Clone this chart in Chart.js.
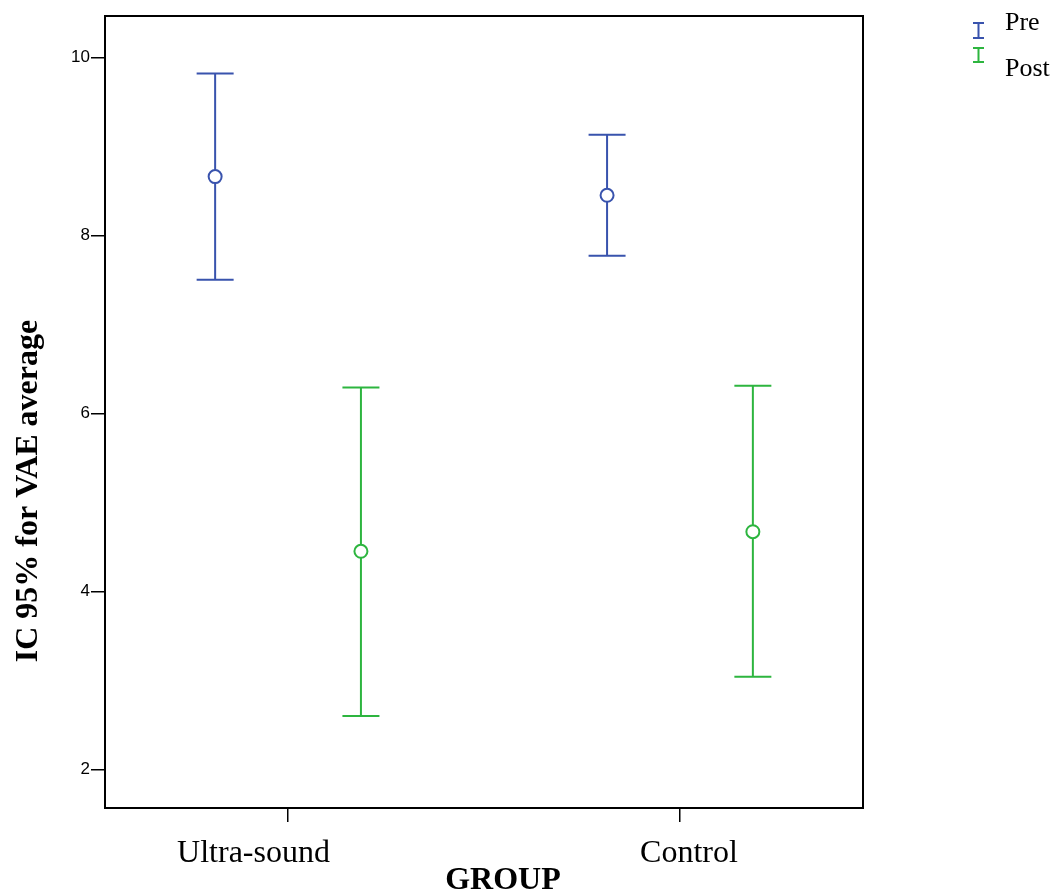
<!DOCTYPE html>
<html>
<head>
<meta charset="utf-8">
<script src="https://cdn.jsdelivr.net/npm/chart.js@4/dist/chart.umd.min.js"></script>
<style>
  html, body { margin: 0; padding: 0; background: #fff; }
  #wrap { width: 1058px; height: 893px; position: relative; }
</style>
</head>
<body>
<div id="wrap"><canvas id="chart"></canvas></div>
<script>
// Groups on the x axis
const categories = ['Ultra-sound', 'Control'];
const seriesNames = ['Pre', 'Post'];

// 95% CI of VAE average
const preMean = [8.66, 8.45];
const preLow = [7.50, 7.77];
const preHigh = [9.82, 9.13];
const postMean = [4.45, 4.67];
const postLow = [2.60, 3.04];
const postHigh = [6.29, 6.31];

const yTicks = [2, 4, 6, 8, 10];

const COLORS = {
    pre: '#3953ad',
    post: '#2db53f',
    axis: '#000000',
};

const SERIF = "'Liberation Serif', 'Times New Roman', serif";
const SANS = "'Liberation Sans', Arial, sans-serif";
const OFFSET = 0.186;              // side-by-side shift within a group
const LABEL_SHIFT = [-34.5, 9];    // category labels sit a little off their ticks

function points(means, shift) {
    return means.map((m, i) => ({ x: i + shift, y: m }));
}

const bars = [
    { low: preLow, high: preHigh },
    { low: postLow, high: postHigh },
];

// error bars drawn through the chart scales
const errorBars = {
    id: 'errorBars',
    beforeDatasetsDraw(chart) {
        const { ctx, scales: { x, y } } = chart;
        ctx.save();
        chart.data.datasets.forEach((ds, d) => {
            ctx.strokeStyle = ds.borderColor;
            ctx.lineWidth = 2;
            ds.data.forEach((p, i) => {
                const px = x.getPixelForValue(p.x);
                const top = y.getPixelForValue(bars[d].high[i]);
                const bot = y.getPixelForValue(bars[d].low[i]);
                ctx.beginPath();
                ctx.moveTo(px, top); ctx.lineTo(px, bot);
                ctx.moveTo(px - 18.5, top); ctx.lineTo(px + 18.5, top);
                ctx.moveTo(px - 18.5, bot); ctx.lineTo(px + 18.5, bot);
                ctx.stroke();
            });
        });
        ctx.restore();
    }
};

// frame, category labels, titles and the I-beam legend
const decorations = {
    id: 'decorations',
    afterDraw(chart) {
        const { ctx, chartArea: a, scales: { x } } = chart;
        ctx.save();
        ctx.strokeStyle = COLORS.axis;
        ctx.lineWidth = 2;
        ctx.strokeRect(a.left, a.top, a.right - a.left, a.bottom - a.top);

        ctx.fillStyle = '#000';
        ctx.textAlign = 'center';
        ctx.textBaseline = 'alphabetic';
        ctx.font = '32px ' + SERIF;
        categories.forEach((c, i) => {
            ctx.fillText(c, x.getPixelForValue(i) + LABEL_SHIFT[i], 862);
        });

        ctx.font = 'bold 32px ' + SERIF;
        ctx.fillText('GROUP', 503, 889);

        ctx.save();
        ctx.translate(37, 491);
        ctx.rotate(-Math.PI / 2);
        ctx.fillText('IC 95% for VAE average', 0, 0);
        ctx.restore();

        // legend
        const legendY = [[23, 38, 30], [48, 62, 76]];
        chart.data.datasets.forEach((ds, d) => {
            const [t, b, base] = legendY[d];
            ctx.strokeStyle = ds.borderColor;
            ctx.lineWidth = 2;
            ctx.beginPath();
            ctx.moveTo(978.5, t); ctx.lineTo(978.5, b);
            ctx.moveTo(973, t); ctx.lineTo(984, t);
            ctx.moveTo(973, b); ctx.lineTo(984, b);
            ctx.stroke();
            ctx.fillStyle = '#000';
            ctx.font = '26px ' + SERIF;
            ctx.textAlign = 'left';
            ctx.fillText(ds.label, 1005, base);
        });
        ctx.restore();
    }
};

const pointStyle = {
    pointStyle: 'circle',
    pointRadius: 6.5,
    pointHoverRadius: 6.5,
    pointBackgroundColor: '#ffffff',
    pointBorderWidth: 2,
    showLine: false,
};

new Chart(document.getElementById('chart'), {
    type: 'scatter',
    data: {
        datasets: [
            { label: seriesNames[0], data: points(preMean, -OFFSET), borderColor: COLORS.pre, pointBorderColor: COLORS.pre, ...pointStyle },
            { label: seriesNames[1], data: points(postMean, OFFSET), borderColor: COLORS.post, pointBorderColor: COLORS.post, ...pointStyle },
        ]
    },
    options: {
        responsive: true,
        maintainAspectRatio: false,
        animation: false,
        layout: { padding: { left: 0, top: 16, right: 195, bottom: 0 } },
        plugins: {
            legend: { display: false },
            tooltip: { enabled: false },
        },
        scales: {
            x: {
                type: 'linear',
                min: -0.467,
                max: 1.467,
                afterBuildTicks: s => { s.ticks = categories.map((c, i) => ({ value: i })); },
                afterFit: s => { s.height = 85; },
                grid: { drawOnChartArea: false, drawTicks: true, tickLength: 14, color: COLORS.axis, lineWidth: 1.5 },
                border: { display: false },
                ticks: { display: false },
            },
            y: {
                min: 1.565,
                max: 10.465,
                afterBuildTicks: s => { s.ticks = yTicks.map(v => ({ value: v })); },
                afterFit: s => { s.width = 105; },
                grid: { drawOnChartArea: false, drawTicks: true, tickLength: 14, color: COLORS.axis, lineWidth: 1.5 },
                border: { display: false },
                ticks: {
                    color: '#000',
                    padding: 1,
                    font: { size: 17, family: SANS },
                },
            },
        },
    },
    plugins: [errorBars, decorations],
});
</script>
</body>
</html>
